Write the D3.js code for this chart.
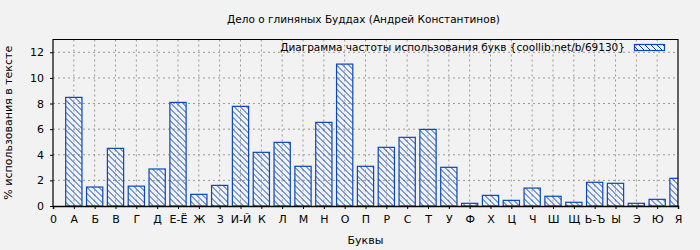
<!DOCTYPE html>
<html>
<head>
<meta charset="utf-8">
<script src="https://cdn.jsdelivr.net/npm/d3@7"></script>
<style>
  body { margin: 0; background: #f2f2f2; }
  text { font-family: "DejaVu Sans", sans-serif; fill: #000; }
</style>
</head>
<body>
<div id="chart"></div>
<script>
// data
const letters = ["А", "Б", "В", "Г", "Д", "Е-Ё", "Ж", "З", "И-Й", "К", "Л", "М", "Н", "О", "П",
  "Р", "С", "Т", "У", "Ф", "Х", "Ц", "Ч", "Ш", "Щ", "Ь-Ъ", "Ы", "Э", "Ю", "Я"];
const values = [8.48, 1.48, 4.5, 1.55, 2.89, 8.09, 0.91, 1.61, 7.78, 4.19, 4.97, 3.1, 6.53, 11.08, 3.1,
  4.58, 5.36, 5.98, 3.02, 0.21, 0.83, 0.44, 1.4, 0.76, 0.29, 1.85, 1.77, 0.21, 0.52, 2.16];
const yTicks = [0, 2, 4, 6, 8, 10, 12];
const tickLabels = ["0"].concat(letters);

const title = "Дело о глиняных Буддах (Андрей Константинов)";
const seriesName = "Диаграмма частоты использования букв {coollib.net/b/69130}";

// dimensions
const W = 700, H = 250;
const margin = { top: 39.5, right: 22, bottom: 44, left: 53 };
const width = W - margin.left - margin.right;
const height = H - margin.top - margin.bottom;
const blue = "#0a47bd";

const svg = d3.select("#chart").append("svg")
  .attr("width", W)
  .attr("height", H);

svg.append("rect").attr("width", W).attr("height", H).attr("fill", "#f2f2f2");

const defs = svg.append("defs");
defs.append("pattern")
  .attr("id", "hatch")
  .attr("patternUnits", "userSpaceOnUse")
  .attr("width", 6).attr("height", 6)
  .append("path")
  .attr("d", "M-1,-1 L7,7 M-1,5 L1,7 M5,-1 L7,1")
  .attr("stroke", blue)
  .attr("stroke-width", 1);

defs.append("clipPath").attr("id", "clip")
  .append("rect").attr("width", width).attr("height", height);

const g = svg.append("g")
  .attr("transform", `translate(${margin.left},${margin.top})`);

// scales
const x = d3.scaleLinear().domain([0, letters.length]).range([0, width]);
const y = d3.scaleLinear().domain([0, 13]).range([height, 0]);
const unit = x(1) - x(0);
const barW = unit * 0.78;

// grid
g.append("g").selectAll("line")
  .data(d3.range(1, letters.length))
  .enter().append("line")
  .attr("x1", d => x(d)).attr("x2", d => x(d))
  .attr("y1", 0).attr("y2", height)
  .attr("stroke", "#999").attr("stroke-dasharray", "2,3");

g.append("g").selectAll("line")
  .data(yTicks.slice(1))
  .enter().append("line")
  .attr("x1", 0).attr("x2", width)
  .attr("y1", d => y(d)).attr("y2", d => y(d))
  .attr("stroke", "#999").attr("stroke-dasharray", "2,3");

// bars
g.append("g")
  .attr("clip-path", "url(#clip)")
  .selectAll("rect")
  .data(values)
  .enter().append("rect")
  .attr("x", (d, i) => x(i + 1) - barW / 2)
  .attr("width", barW)
  .attr("y", d => y(d))
  .attr("height", d => height - y(d))
  .attr("fill", "url(#hatch)")
  .attr("stroke", blue)
  .attr("stroke-width", 1.2);

// frame
g.append("path")
  .attr("d", `M0,${height} V0 H${width} V${height}`)
  .attr("fill", "none").attr("stroke", "#000").attr("stroke-width", 1.2);

// axes
const xAxis = g.append("g")
  .attr("transform", `translate(0,${height})`)
  .call(d3.axisBottom(x)
    .tickValues(d3.range(0, letters.length + 1))
    .tickFormat(d => tickLabels[d])
    .tickSize(3)
    .tickPadding(6));
xAxis.select(".domain").attr("stroke-width", 1.5);
xAxis.selectAll("text").style("font-size", "11px");

const yAxis = g.append("g")
  .call(d3.axisLeft(y)
    .tickValues(yTicks)
    .tickSize(3)
    .tickPadding(6));
yAxis.select(".domain").remove();
yAxis.selectAll("text").style("font-size", "11px");

// titles
svg.append("text")
  .attr("x", margin.left + width / 2 - 2)
  .attr("y", 23)
  .attr("text-anchor", "middle")
  .style("font-size", "10.5px")
  .text(title);

svg.append("text")
  .attr("x", margin.left + width / 2)
  .attr("y", 244)
  .attr("text-anchor", "middle")
  .style("font-size", "11px")
  .text("Буквы");

svg.append("text")
  .attr("transform", `translate(12,${margin.top + height / 2}) rotate(-90)`)
  .attr("text-anchor", "middle")
  .style("font-size", "11px")
  .text("% использования в тексте");

// legend
svg.append("text")
  .attr("x", 625)
  .attr("y", 51)
  .attr("text-anchor", "end")
  .style("font-size", "10.5px")
  .text(seriesName);

svg.append("rect")
  .attr("x", 634.5).attr("y", 44.5)
  .attr("width", 30).attr("height", 6)
  .attr("fill", "url(#hatch)")
  .attr("stroke", blue)
  .attr("stroke-width", 1.2);
</script>
</body>
</html>
